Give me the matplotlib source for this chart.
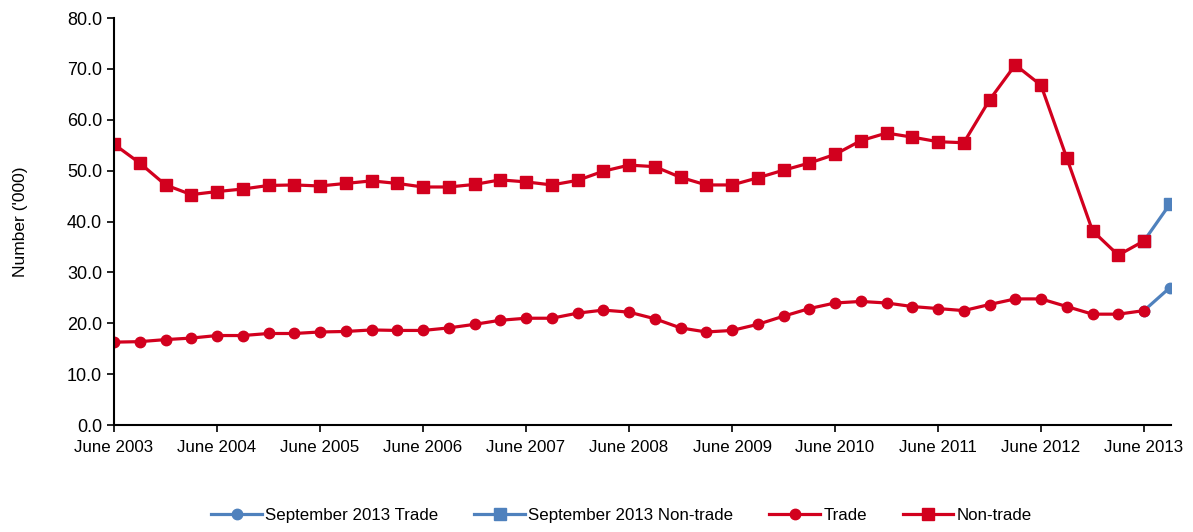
import matplotlib.pyplot as plt
import numpy as np

plt.rcParams['font.family'] = ['Liberation Sans', 'DejaVu Sans']

# quarterly, June 2003 .. September 2013
trade = [16.3, 16.4, 16.8, 17.1, 17.6, 17.6, 18.0, 18.0, 18.3, 18.4,
         18.7, 18.6, 18.6, 19.1, 19.8, 20.6, 21.0, 21.0, 22.0, 22.6,
         22.2, 20.9, 19.1, 18.3, 18.6, 19.8, 21.4, 22.9, 24.0, 24.3,
         24.0, 23.3, 22.9, 22.5, 23.7, 24.8, 24.8, 23.3, 21.8, 21.8,
         22.5]
non_trade = [55.2, 51.5, 47.2, 45.3, 45.9, 46.4, 47.1, 47.2, 47.0, 47.5,
             48.0, 47.5, 46.8, 46.8, 47.3, 48.2, 47.8, 47.2, 48.1, 49.9,
             51.1, 50.8, 48.7, 47.2, 47.2, 48.6, 50.1, 51.5, 53.2, 55.9,
             57.4, 56.6, 55.7, 55.5, 63.9, 70.8, 66.8, 52.5, 38.2, 33.4,
             36.2]
sep_trade = [22.5, 27.0]       # June 2013 -> September 2013
sep_non_trade = [36.2, 43.4]
tick_labels = ['June 2003', 'June 2004', 'June 2005', 'June 2006', 'June 2007',
               'June 2008', 'June 2009', 'June 2010', 'June 2011', 'June 2012',
               'June 2013']

red = '#D2001E'
blue = '#4F81BD'

fig = plt.figure(figsize=(11.93, 5.32), dpi=100)
ax = fig.add_axes([0.0956, 0.201, 0.886, 0.765])

x = np.arange(len(trade))
xs = np.arange(len(trade) - 1, len(trade) + 1)

ax.plot(xs, sep_trade, color=blue, lw=2.3, marker='o', ms=7.5, label='September 2013 Trade')
ax.plot(xs, sep_non_trade, color=blue, lw=2.3, marker='s', ms=8.5, label='September 2013 Non-trade')
ax.plot(x, trade, color=red, lw=2.3, marker='o', ms=7.5, label='Trade')
ax.plot(x, non_trade, color=red, lw=2.3, marker='s', ms=8.5, label='Non-trade')

ax.set_xlim(0, 41.05)
ax.set_ylim(0, 80)
ax.set_yticks(np.arange(0, 81, 10))
ax.set_yticklabels(['%.1f' % v for v in np.arange(0, 81, 10)], fontsize=13)
ax.set_xticks(np.arange(0, 41, 4))
ax.set_xticklabels(tick_labels, fontsize=12.2)
ax.tick_params(axis='both', direction='out', length=5, width=1.2, color='black')
ax.tick_params(axis='x', pad=6)

for s in ['top', 'right']:
    ax.spines[s].set_visible(False)
for s in ['left', 'bottom']:
    ax.spines[s].set_linewidth(1.5)

ax.set_ylabel("Number ('000)", fontsize=12.5, labelpad=28)

fig.legend(loc='lower center', ncol=4, frameon=False, fontsize=12.2,
           bbox_to_anchor=(0.521, -0.012), handlelength=3.0, columnspacing=2.1,
           handletextpad=0.2)

plt.savefig('out.png', dpi=100)
